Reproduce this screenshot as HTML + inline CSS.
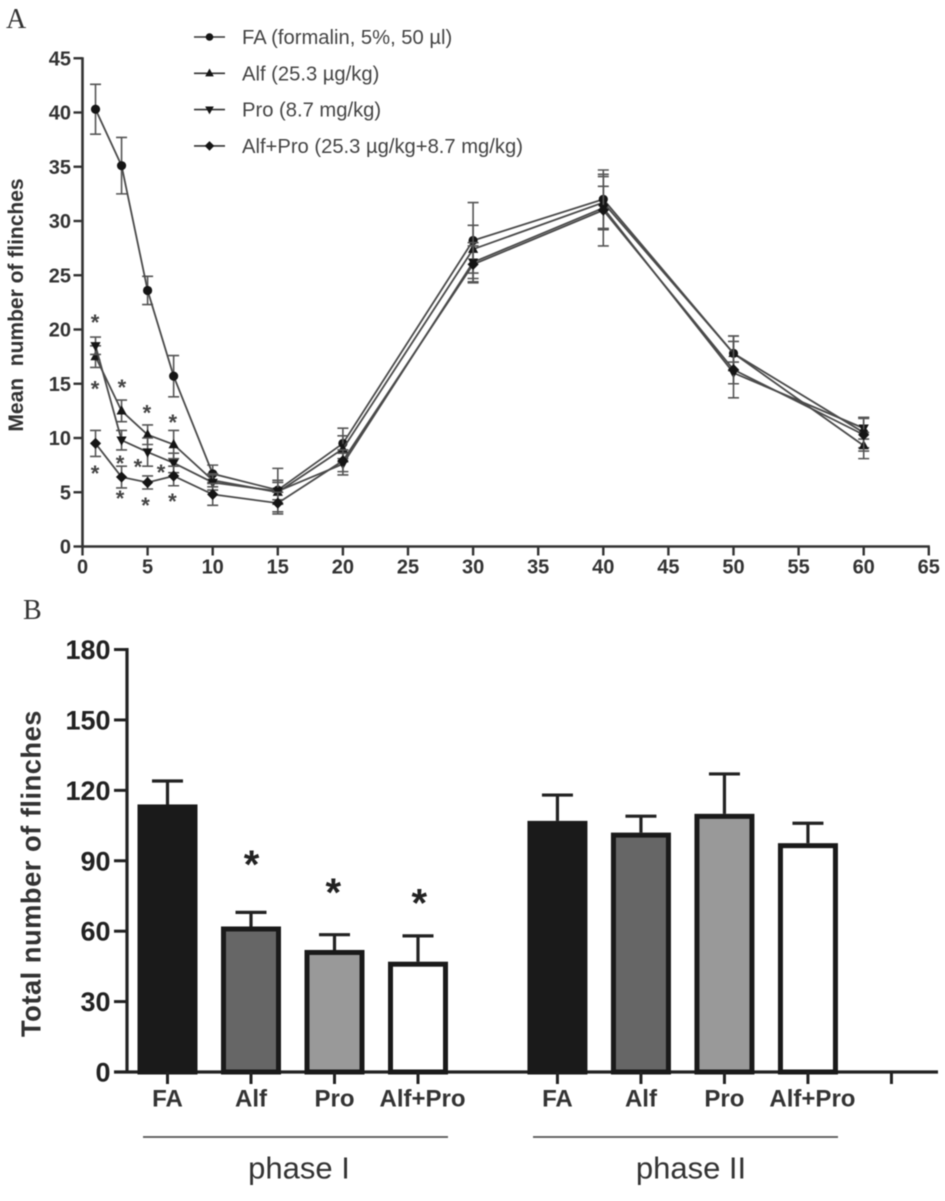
<!DOCTYPE html>
<html lang="en">
<head>
<meta charset="utf-8">
<title>Flinch response charts</title>
<style>
html,body{margin:0;padding:0;background:#fff;width:945px;height:1201px;overflow:hidden}
svg{display:block;filter:blur(0.5px)}
text{font-family:"Liberation Sans",Arial,sans-serif;white-space:pre}
</style>
</head>
<body>
<svg id="figure" xmlns="http://www.w3.org/2000/svg" width="945" height="1201" viewBox="0 0 945 1201">
  <rect width="945" height="1201" fill="#fff"/>
  <text x="6" y="28" font-size="28" fill="#333" style='font-family:"Liberation Serif",serif'>A</text>
  <text x="23" y="619" font-size="28" fill="#333" style='font-family:"Liberation Serif",serif'>B</text>
  <g id="chartA"></g>
  <g id="chartB"></g>
</svg>
<script>
// Panel A data
const timePoints = [1, 3, 5, 7, 10, 15, 20, 30, 40, 50, 60];
const faValues = [40.3, 35.1, 23.6, 15.7, 6.7, 5.2, 9.5, 28.2, 32.0, 17.8, 10.5];
const faErrors = [2.3, 2.6, 1.3, 1.9, 0.8, 2.0, 1.4, 3.5, 2.7, 1.6, 1.4];
const alfValues = [17.5, 12.5, 10.3, 9.4, 6.1, 5.0, 9.0, 27.4, 31.7, 17.8, 9.3];
const alfErrors = [1.0, 1.0, 0.9, 1.3, 0.6, 1.1, 1.2, 2.2, 2.4, 1.6, 1.2];
const proValues = [18.5, 9.8, 8.7, 7.7, 5.9, 5.1, 7.6, 26.2, 31.2, 16.0, 10.9];
const proErrors = [0.8, 0.9, 1.3, 0.9, 0.7, 0.8, 1.0, 1.8, 2.0, 1.0, 1.0];
const comboValues = [9.5, 6.4, 5.9, 6.5, 4.8, 4.0, 7.9, 26.0, 31.0, 16.3, 10.3];
const comboErrors = [1.2, 1.0, 0.6, 0.9, 1.0, 1.0, 1.0, 1.7, 3.3, 2.6, 1.5];
const xTicksA = [0, 5, 10, 15, 20, 25, 30, 35, 40, 45, 50, 55, 60, 65];
const yTicksA = [0, 5, 10, 15, 20, 25, 30, 35, 40, 45];
const legendLabels = ["FA (formalin, 5%, 50 µl)", "Alf (25.3 µg/kg)", "Pro (8.7 mg/kg)", "Alf+Pro (25.3 µg/kg+8.7 mg/kg)"];
const starTimesA = [0.96, 0.96, 0.96, 3.03, 2.88, 2.88, 4.95, 4.84, 4.26, 6.03, 6.93, 6.91];
const starValuesA = [20.97, 14.82, 7.05, 14.98, 4.75, 7.97, 12.63, 4.1, 7.65, 7.14, 11.75, 4.47];

// Panel B data
const barGroups = ["FA", "Alf", "Pro", "Alf+Pro", "FA", "Alf", "Pro", "Alf+Pro"];
const barSlots = [0, 1, 2, 3, 4.67, 5.67, 6.67, 7.67];
const barValues = [114, 62, 52, 47, 107, 102, 110, 97.5];
const barUpper = [124, 68, 58.5, 58, 118, 109, 127, 106];
const barFills = ["#1a1a1a", "#666666", "#999999", "#ffffff", "#1a1a1a", "#666666", "#999999", "#ffffff"];
const extraTickSlot = [8.67];
const yTicksB = [0, 30, 60, 90, 120, 150, 180];
const starSlotsB = [1, 1.98, 3.01];
const starValuesB = [90, 78, 73.5];

const NS = "http://www.w3.org/2000/svg";
function mk(parent, tag, attrs, txt) {
  const el = document.createElementNS(NS, tag);
  for (const k in attrs) el.setAttribute(k, attrs[k]);
  if (txt !== undefined) el.textContent = txt;
  parent.appendChild(el);
  return el;
}

// ---------- Panel A ----------
const gA = document.getElementById("chartA");
const xA = v => 82.5 + v * 13.02;
const yA = v => 546.5 - v * 10.85;
const AXC = "#333";

let axisLine = mk(gA, "path", {d: `M${xA(0)} ${yA(45)-1}V${yA(0)+1}M${xA(0)-1} ${yA(0)}H${xA(65)+1}`, stroke: AXC, "stroke-width": 2.6, fill: "none"});



yTicksA.forEach(t => {
  const tick = mk(gA, "line", {x1: xA(0) - 9, x2: xA(0), y1: yA(t), y2: yA(t), stroke: AXC, "stroke-width": 2.4});
  
  
  const lab = mk(gA, "text", {x: xA(0) - 11.5, y: yA(t) + 7, "text-anchor": "end", "font-size": 20, "font-weight": "bold", fill: AXC}, t);
  
  
});
xTicksA.forEach(t => {
  const tick = mk(gA, "line", {x1: xA(t), x2: xA(t), y1: yA(0), y2: yA(0) + 9, stroke: AXC, "stroke-width": 2.4});
  
  
  const lab = mk(gA, "text", {x: xA(t), y: yA(0) + 27, "text-anchor": "middle", "font-size": 20, "font-weight": "bold", fill: AXC}, t);
  
  
});
const yTitleA = mk(gA, "text", {transform: "translate(23,305) rotate(-90)", "text-anchor": "middle", "font-size": 21, "font-weight": "bold", fill: "#333"}, "Mean  number of flinches");



function marker(parent, kind, cx, cy, s) {
  if (kind === "circle") return mk(parent, "circle", {cx: cx, cy: cy, r: s, fill: "#151515"});
  let pts;
  if (kind === "up") pts = [[cx, cy - s - 1], [cx + s + 0.5, cy + s * 0.8], [cx - s - 0.5, cy + s * 0.8]];
  if (kind === "down") pts = [[cx, cy + s + 1], [cx + s + 0.5, cy - s * 0.8], [cx - s - 0.5, cy - s * 0.8]];
  if (kind === "diamond") pts = [[cx, cy - s - 1], [cx + s + 1, cy], [cx, cy + s + 1], [cx - s - 1, cy]];
  return mk(parent, "polygon", {points: pts.map(p => p.join(",")).join(" "), fill: "#151515"});
}

const seriesValues = [faValues, alfValues, proValues, comboValues];
const seriesErrors = [faErrors, alfErrors, proErrors, comboErrors];
const seriesMarkers = ["circle", "up", "down", "diamond"];
const seriesNames = ["fa", "alf", "pro", "alf-pro"];

seriesValues.forEach((vals, si) => {
  const g = mk(gA, "g", {});
  
  
  vals.forEach((v, i) => {
    const e = seriesErrors[si][i], x = xA(timePoints[i]);
    const bar = mk(g, "path", {d: `M${x} ${yA(v + e)}V${yA(v - e)}M${x - 5.5} ${yA(v + e)}H${x + 5.5}M${x - 5.5} ${yA(v - e)}H${x + 5.5}`, stroke: "#555", "stroke-width": 1.6, fill: "none"});
    
    
  });
  const line = mk(g, "polyline", {points: vals.map((v, i) => xA(timePoints[i]) + "," + yA(v)).join(" "), fill: "none", stroke: "#4a4a4a", "stroke-width": 1.8});
  
  
  vals.forEach((v, i) => {
    const m = marker(g, seriesMarkers[si], xA(timePoints[i]), yA(v), 4.6);
    
    
  });
});

starTimesA.forEach((t, i) => {
  const s = mk(gA, "text", {x: xA(t), y: yA(starValuesA[i]) + 11, "text-anchor": "middle", "font-size": 22, "font-weight": "bold", fill: "#444"}, "*");
  
  
});

legendLabels.forEach((label, i) => {
  const y = 37 + i * 36.3;
  const g = mk(gA, "g", {});
  
  
  const l = mk(g, "line", {x1: 194, x2: 225, y1: y, y2: y, stroke: "#333", "stroke-width": 1.6});
  
  
  const m = marker(g, seriesMarkers[i], 209.5, y, 3.8);
  
  
  const t = mk(g, "text", {x: 242, y: y + 7, "font-size": 20.2, fill: "#444"}, label);
  
  
});

// ---------- Panel B ----------
const gB = document.getElementById("chartB");
const xB = s => 167.5 + s * 83.5;
const yB = v => 1072 - v * 2.347;
const DK = "#222";
const BW = 60;

const axesB = mk(gB, "path", {d: `M127 ${yB(180) - 1.5}V${yB(0) + 1.5}M114 ${yB(0)}H938`, stroke: DK, "stroke-width": 3.2, fill: "none"});



yTicksB.forEach(t => {
  const tick = mk(gB, "line", {x1: 114, x2: 127, y1: yB(t), y2: yB(t), stroke: DK, "stroke-width": 3});
  
  
  const lab = mk(gB, "text", {x: 110.5, y: yB(t) + 9.5, "text-anchor": "end", "font-size": 27, "font-weight": "bold", fill: "#222"}, t);
  
  
});
const yTitleB = mk(gB, "text", {transform: "translate(40.5,873.5) rotate(-90)", "text-anchor": "middle", "font-size": 27.3, "font-weight": "bold", fill: "#333", "letter-spacing": "0.5"}, "Total number of flinches");



barGroups.forEach((name, i) => {
  const cx = xB(barSlots[i]);
  const g = mk(gB, "g", {});
  
  
  const err = mk(g, "path", {d: `M${cx} ${yB(barValues[i])}V${yB(barUpper[i])}M${cx - 15.5} ${yB(barUpper[i])}H${cx + 15.5}`, stroke: DK, "stroke-width": 3.2, fill: "none"});
  
  
  const rect = mk(g, "rect", {x: cx - BW / 2 + 2.5, y: yB(barValues[i]) + 2.5, width: BW - 5, height: yB(0) - yB(barValues[i]) - 2.5, fill: barFills[i], stroke: "#1a1a1a", "stroke-width": 5});
  
  
  const tick = mk(g, "line", {x1: cx, x2: cx, y1: yB(0), y2: yB(0) + 12, stroke: DK, "stroke-width": 3});
  
  
  const labelShift = name.length > 3 ? 4.5 : 0;
  const lab = mk(g, "text", {x: cx + labelShift, y: yB(0) + 34.5, "text-anchor": "middle", "font-size": 24, "font-weight": "bold", fill: "#333"}, name);
  
  
});
extraTickSlot.forEach(s => {
  const tick = mk(gB, "line", {x1: xB(s), x2: xB(s), y1: yB(0), y2: yB(0) + 12, stroke: DK, "stroke-width": 3});
  
  
});
starSlotsB.forEach((s, i) => {
  const t = mk(gB, "text", {x: xB(s) + 0.5, y: yB(starValuesB[i]) + 17, "text-anchor": "middle", "font-size": 40, "font-weight": "bold", fill: "#222"}, "*");
  
  
});
const line1 = mk(gB, "line", {x1: 143, x2: 448, y1: 1137, y2: 1137, stroke: "#555", "stroke-width": 1.8});


const line2 = mk(gB, "line", {x1: 533, x2: 838, y1: 1137, y2: 1137, stroke: "#555", "stroke-width": 1.8});


const ph1 = mk(gB, "text", {x: 299, y: 1178.5, "text-anchor": "middle", "font-size": 31, fill: "#333"}, "phase I");


const ph2 = mk(gB, "text", {x: 691, y: 1178.5, "text-anchor": "middle", "font-size": 31, fill: "#333"}, "phase II");


</script>
</body>
</html>
